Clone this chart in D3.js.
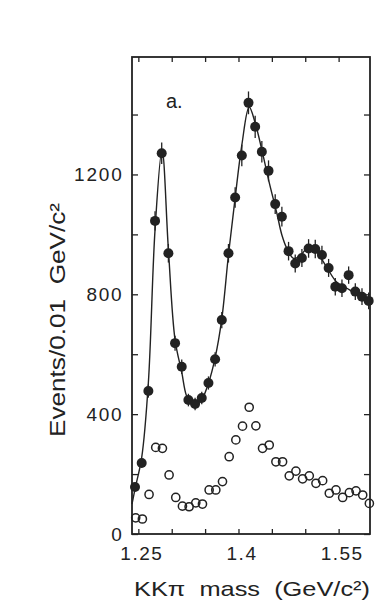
<!DOCTYPE html>
<html>
<head>
<meta charset="utf-8">
<script src="https://cdn.jsdelivr.net/npm/d3@7"></script>
<style>
  body { margin: 0; background: #fff; }
  svg text { font-family: "Liberation Sans", Arial, sans-serif; fill: #222; }
</style>
</head>
<body>
<div id="chart"></div>
<script>
// bin centres (GeV/c^2), 0.01 wide
const mass = [1.245, 1.255, 1.265, 1.275, 1.285, 1.295, 1.305, 1.315, 1.325, 1.335,
              1.345, 1.355, 1.365, 1.375, 1.385, 1.395, 1.405, 1.415, 1.425, 1.435,
              1.445, 1.455, 1.465, 1.475, 1.485, 1.495, 1.505, 1.515, 1.525, 1.535,
              1.545, 1.555, 1.565, 1.575, 1.585, 1.595];

// filled points (with error bars)
const filledEvents = [157, 237, 477, 1045, 1271, 937, 637, 558, 447, 434,
                      454, 504, 583, 714, 937, 1123, 1263, 1439, 1359, 1276,
                      1212, 1101, 1059, 944, 903, 921, 953, 951, 931, 888,
                      825, 820, 864, 809, 792, 778];
const filledErrors = [13, 15, 22, 32, 36, 31, 25, 24, 21, 21,
                      21, 22, 24, 27, 31, 34, 36, 38, 37, 36,
                      35, 33, 33, 31, 30, 30, 31, 31, 31, 30,
                      29, 29, 29, 28, 28, 28];

// open circles
const openEvents = [54, 50, 132, 289, 286, 197, 122, 93, 91, 104,
                    100, 147, 147, 175, 258, 314, 360, 423, 361, 286,
                    297, 241, 241, 194, 210, 184, 194, 169, 178, 136,
                    147, 122, 138, 144, 130, 102];

// fitted curve through the filled points
const fitMass = [1.2405, 1.245, 1.255, 1.265, 1.275, 1.2855, 1.295, 1.305, 1.315, 1.322,
                 1.330, 1.338, 1.346, 1.355, 1.365, 1.375, 1.385, 1.395, 1.405, 1.416,
                 1.425, 1.435, 1.445, 1.4575, 1.465, 1.4725, 1.4825, 1.492, 1.500, 1.508,
                 1.517, 1.532, 1.547, 1.567, 1.597];
const fitEvents = [100, 150, 255, 505, 1015, 1283, 950, 648, 540, 462,
                   432, 430, 452, 503, 588, 718, 932, 1122, 1298, 1425,
                   1372, 1282, 1183, 1070, 998, 953, 920, 928, 947, 952,
                   941, 891, 841, 814, 770];

const xTicks = [1.25, 1.30, 1.35, 1.40, 1.45, 1.50, 1.55];
const xTickLabels = ["1.25", "", "", "1.4", "", "", "1.55"];
const yTicks = [0, 200, 400, 600, 800, 1000, 1200, 1400];
const yTickLabels = ["0", "", "400", "", "800", "", "1200", ""];

const width = 379, height = 600;
const margin = { left: 132, right: 370, top: 57, bottom: 534 };

const svg = d3.select("#chart").append("svg")
    .attr("width", width)
    .attr("height", height);

const x = d3.scaleLinear().domain([1.2405, 1.597]).range([margin.left, margin.right]);
const y = d3.scaleLinear().domain([0, 1592]).range([margin.bottom, margin.top]);

const ink = "#222";

// axes, ticks inward on all four sides
svg.append("g")
    .attr("transform", `translate(0,${margin.bottom})`)
    .call(d3.axisBottom(x).tickValues(xTicks)
        .tickSizeInner(-5).tickSizeOuter(0).tickPadding(13)
        .tickFormat((d, i) => xTickLabels[i]))
    .call(g => g.select(".domain").remove())
    .call(g => g.selectAll("line").attr("stroke", ink).attr("stroke-width", 1.3))
    .call(g => g.selectAll("text").attr("font-size", 19).attr("letter-spacing", 1.5)
        .attr("dx", 3).attr("fill", ink));

svg.append("g")
    .attr("transform", `translate(0,${margin.top})`)
    .call(d3.axisTop(x).tickValues(xTicks)
        .tickSizeInner(-5).tickSizeOuter(0).tickFormat(""))
    .call(g => g.select(".domain").remove())
    .call(g => g.selectAll("line").attr("stroke", ink).attr("stroke-width", 1.3));

svg.append("g")
    .attr("transform", `translate(${margin.left},0)`)
    .call(d3.axisLeft(y).tickValues(yTicks)
        .tickSizeInner(-6).tickSizeOuter(0).tickPadding(8.5)
        .tickFormat((d, i) => yTickLabels[i]))
    .call(g => g.select(".domain").remove())
    .call(g => g.selectAll("line").attr("stroke", ink).attr("stroke-width", 1.3))
    .call(g => g.selectAll("text").attr("font-size", 19).attr("letter-spacing", 1.8)
        .attr("fill", ink));

svg.append("g")
    .attr("transform", `translate(${margin.right},0)`)
    .call(d3.axisRight(y).tickValues(yTicks)
        .tickSizeInner(-6).tickSizeOuter(0).tickFormat(""))
    .call(g => g.select(".domain").remove())
    .call(g => g.selectAll("line").attr("stroke", ink).attr("stroke-width", 1.3));

// fitted curve
const line = d3.line()
    .x((d, i) => x(fitMass[i]))
    .y(d => y(d))
    .curve(d3.curveCatmullRom.alpha(0.5));

svg.append("path")
    .datum(fitEvents)
    .attr("d", line)
    .attr("fill", "none")
    .attr("stroke", ink)
    .attr("stroke-width", 1.4);

// error bars
svg.append("g").selectAll("line")
    .data(filledEvents)
    .enter()
    .append("line")
    .attr("x1", (d, i) => x(mass[i]))
    .attr("x2", (d, i) => x(mass[i]))
    .attr("y1", (d, i) => y(d - filledErrors[i]))
    .attr("y2", (d, i) => y(d + filledErrors[i]))
    .attr("stroke", ink)
    .attr("stroke-width", 1.3);

// filled points
svg.append("g").selectAll("circle")
    .data(filledEvents)
    .enter()
    .append("circle")
    .attr("cx", (d, i) => x(mass[i]))
    .attr("cy", d => y(d))
    .attr("r", 5)
    .attr("fill", ink);

// open circles
svg.append("g").selectAll("circle")
    .data(openEvents)
    .enter()
    .append("circle")
    .attr("cx", (d, i) => x(mass[i]) + 0.7)
    .attr("cy", d => y(d))
    .attr("r", 4.1)
    .attr("fill", "none")
    .attr("stroke", ink)
    .attr("stroke-width", 1.5);

// frame
svg.append("rect")
    .attr("x", margin.left)
    .attr("y", margin.top)
    .attr("width", margin.right - margin.left)
    .attr("height", margin.bottom - margin.top)
    .attr("fill", "none")
    .attr("stroke", ink)
    .attr("stroke-width", 1.8);

// panel tag
svg.append("text")
    .attr("x", 166)
    .attr("y", 108)
    .attr("font-size", 20)
    .text("a.");

// axis titles
svg.append("text")
    .attr("x", (margin.left + margin.right) / 2 + 1)
    .attr("y", 596)
    .attr("text-anchor", "middle")
    .attr("font-size", 21)
    .attr("textLength", 236)
    .attr("lengthAdjust", "spacingAndGlyphs")
    .style("white-space", "pre")
    .text("KKπ  mass  (GeV/c²)");

svg.append("text")
    .attr("transform", "translate(65,320) rotate(-90)")
    .attr("text-anchor", "middle")
    .attr("font-size", 22)
    .attr("textLength", 234)
    .attr("lengthAdjust", "spacingAndGlyphs")
    .style("white-space", "pre")
    .text("Events/0.01  GeV/c²");
</script>
</body>
</html>
